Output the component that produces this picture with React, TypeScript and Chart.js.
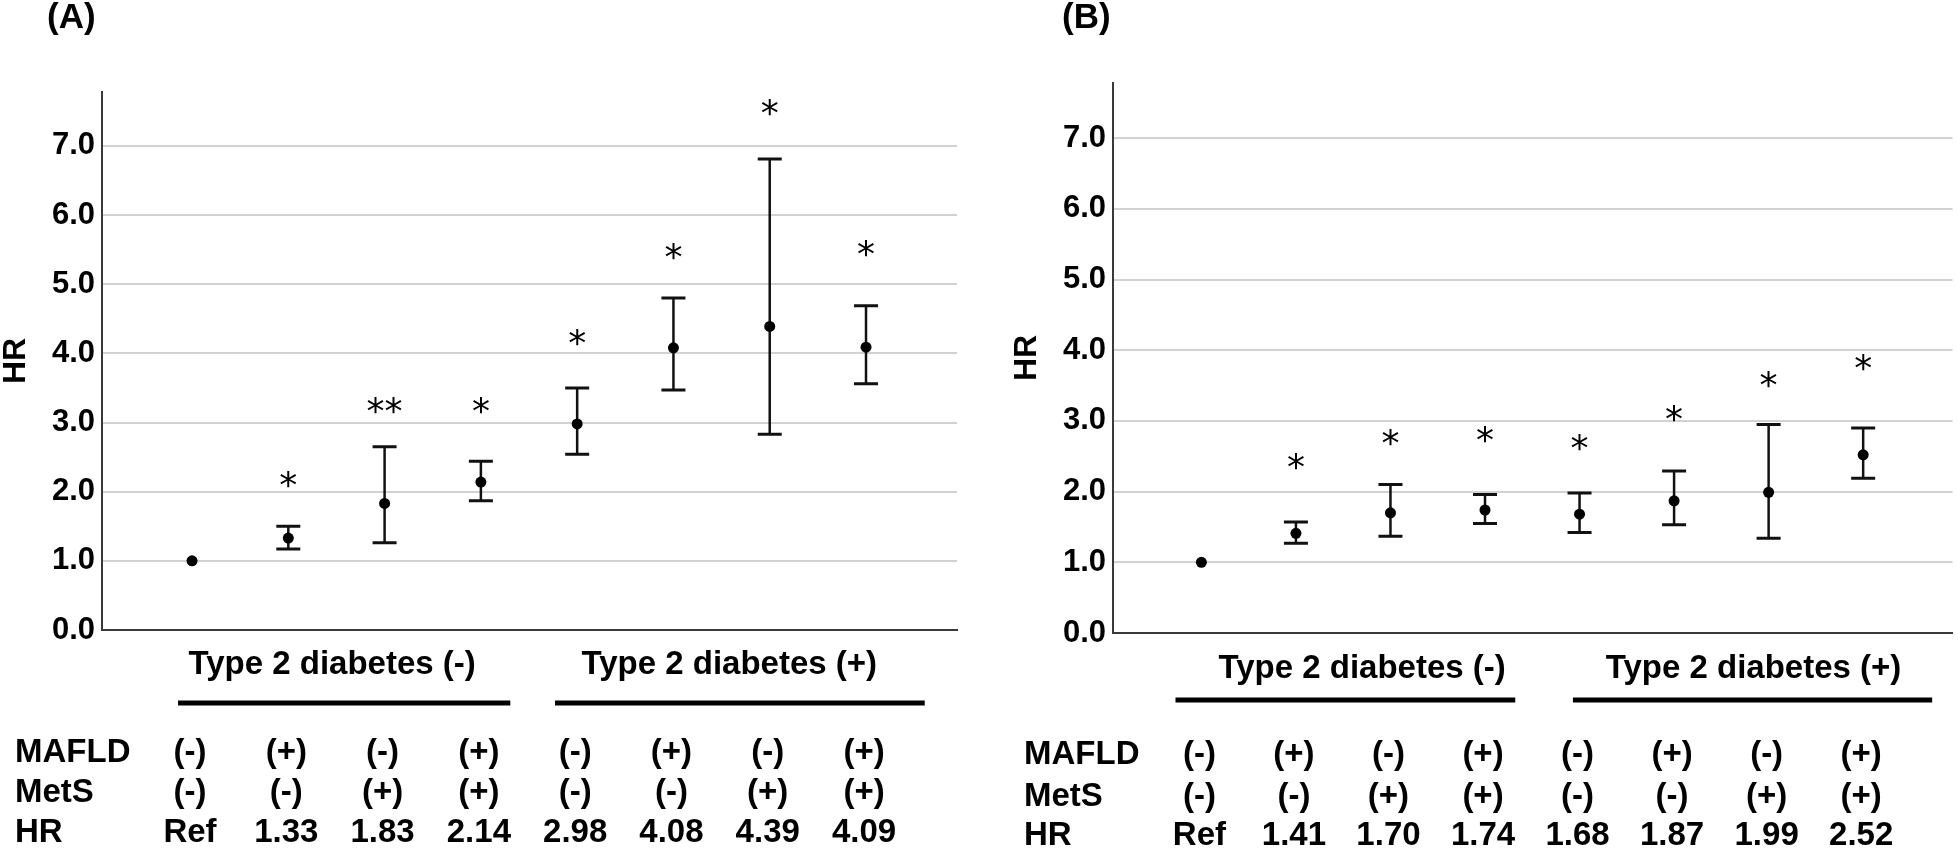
import React, { useEffect, useRef } from 'react';
import { Chart, registerables } from 'chart.js';

Chart.register(...registerables);

// ---------- data ----------
const groupIds = [1, 2, 3, 4, 5, 6, 7, 8];
const mafldRow = ['(-)', '(+)', '(-)', '(+)', '(-)', '(+)', '(-)', '(+)'];
const metsRow = ['(-)', '(-)', '(+)', '(+)', '(-)', '(-)', '(+)', '(+)'];
const rowNames = ['MAFLD', 'MetS', 'HR'];
const groupLabels = ['Type 2 diabetes (-)', 'Type 2 diabetes (+)'];
const yTickValues = [0, 1, 2, 3, 4, 5, 6, 7];

const hrA = [1.0, 1.33, 1.83, 2.14, 2.98, 4.08, 4.39, 4.09];
const lowA = [null, 1.17, 1.26, 1.87, 2.54, 3.47, 2.83, 3.56];
const highA = [null, 1.5, 2.65, 2.44, 3.5, 4.8, 6.81, 4.69];
const starsA = ['', '*', '**', '*', '*', '*', '*', '*'];
const starPosA = [null, 2.18, 3.25, 3.25, 4.23, 5.48, 7.56, 5.52];
const hrTextA = ['Ref', '1.33', '1.83', '2.14', '2.98', '4.08', '4.39', '4.09'];

const hrB = [1.0, 1.41, 1.7, 1.74, 1.68, 1.87, 1.99, 2.52];
const lowB = [null, 1.27, 1.37, 1.55, 1.42, 1.53, 1.34, 2.19];
const highB = [null, 1.57, 2.1, 1.96, 1.98, 2.29, 2.95, 2.9];
const starsB = ['', '*', '*', '*', '*', '*', '*', '*'];
const starPosB = [null, 2.43, 2.77, 2.81, 2.69, 3.11, 3.58, 3.82];
const hrTextB = ['Ref', '1.41', '1.70', '1.74', '1.68', '1.87', '1.99', '2.52'];

// ---------- layout ----------
const W = 979;
const H = 852;
const FONT = '"Liberation Sans", Arial, sans-serif';

type Panel = {
  label: string;
  hr: number[];
  low: (number | null)[];
  high: (number | null)[];
  stars: string[];
  starPos: (number | null)[];
  hrText: string[];
  padding: { left: number; right: number; top: number; bottom: number };
  groupCenters: number[];
  groupLines: number[][];
  groupTextDy: number;
  groupLineDy: number;
  rowDy: number[];
  rowLabelDx: number;
  panelLabelDx: number;
};

const panelA: Panel = {
  label: '(A)',
  hr: hrA,
  low: lowA,
  high: highA,
  stars: starsA,
  starPos: starPosA,
  hrText: hrTextA,
  padding: { left: 0, right: 22, top: 92, bottom: 222 },
  groupCenters: [2.455, 6.58],
  groupLines: [
    [0.855, 4.306],
    [4.77, 8.61],
  ],
  groupTextDy: 35,
  groupLineDy: 73,
  rowDy: [123, 163, 203],
  rowLabelDx: -87,
  panelLabelDx: -55,
};

const panelB: Panel = {
  label: '(B)',
  hr: hrB,
  low: lowB,
  high: highB,
  stars: starsB,
  starPos: starPosB,
  hrText: hrTextB,
  padding: { left: 32, right: 1, top: 83, bottom: 219 },
  groupCenters: [2.7, 6.84],
  groupLines: [
    [0.726, 4.32],
    [4.93, 8.73],
  ],
  groupTextDy: 36,
  groupLineDy: 67,
  rowDy: [122, 164, 203],
  rowLabelDx: -89,
  panelLabelDx: -51,
};

function makePlugin(p: Panel) {
  return {
    id: 'annot' + p.label,
    beforeDatasetsDraw(chart: any) {
      const ctx = chart.ctx;
      const xs = chart.scales.x;
      const ys = chart.scales.y;
      ctx.save();
      ctx.strokeStyle = '#111';
      p.low.forEach((lo, i) => {
        const hi = p.high[i];
        if (lo == null || hi == null) return;
        const x = xs.getPixelForValue(groupIds[i]);
        const yl = ys.getPixelForValue(lo);
        const yh = ys.getPixelForValue(hi);
        ctx.lineWidth = 2.5;
        ctx.beginPath();
        ctx.moveTo(x, yh);
        ctx.lineTo(x, yl);
        ctx.stroke();
        ctx.lineWidth = 3;
        ctx.beginPath();
        ctx.moveTo(x - 12, yh);
        ctx.lineTo(x + 12, yh);
        ctx.moveTo(x - 12, yl);
        ctx.lineTo(x + 12, yl);
        ctx.stroke();
      });
      ctx.restore();
    },
    afterDraw(chart: any) {
      const ctx = chart.ctx;
      const xs = chart.scales.x;
      const ys = chart.scales.y;
      const area = chart.chartArea;
      ctx.save();
      ctx.fillStyle = '#000';
      ctx.strokeStyle = '#000';

      // significance asterisks
      ctx.font = '36px "DejaVu Sans", sans-serif';
      ctx.textAlign = 'center';
      ctx.textBaseline = 'alphabetic';
      p.stars.forEach((s, i) => {
        const v = p.starPos[i];
        if (!s || v == null) return;
        const m = ctx.measureText(s);
        const cy = ys.getPixelForValue(v);
        const y = cy + (m.actualBoundingBoxAscent - m.actualBoundingBoxDescent) / 2;
        ctx.fillText(s, xs.getPixelForValue(groupIds[i]), y);
      });

      // panel label
      ctx.font = 'bold 35px ' + FONT;
      ctx.textAlign = 'left';
      ctx.textBaseline = 'middle';
      ctx.fillText(p.label, area.left + p.panelLabelDx, 18);

      // group labels + lines
      ctx.font = 'bold 33px ' + FONT;
      ctx.textAlign = 'center';
      groupLabels.forEach((g, k) => {
        ctx.fillText(g, xs.getPixelForValue(p.groupCenters[k]), area.bottom + p.groupTextDy);
        const [a, b] = p.groupLines[k];
        ctx.lineWidth = 5;
        ctx.beginPath();
        ctx.moveTo(xs.getPixelForValue(a), area.bottom + p.groupLineDy);
        ctx.lineTo(xs.getPixelForValue(b), area.bottom + p.groupLineDy);
        ctx.stroke();
      });

      // table
      const rows = [mafldRow, metsRow, p.hrText];
      rows.forEach((row, r) => {
        const y = area.bottom + p.rowDy[r];
        ctx.textAlign = 'left';
        ctx.fillText(rowNames[r], area.left + p.rowLabelDx, y);
        ctx.textAlign = 'center';
        row.forEach((t, i) => {
          ctx.fillText(t, xs.getPixelForValue(groupIds[i]) - 2, y);
        });
      });
      ctx.restore();
    },
  };
}

function PanelChart({ p }: { p: Panel }) {
  const ref = useRef<HTMLCanvasElement | null>(null);
  useEffect(() => {
    if (!ref.current) return;
    const chart = new Chart(ref.current, {
      type: 'scatter',
      data: {
        datasets: [
          {
            data: p.hr.map((v, i) => ({ x: groupIds[i], y: v })),
            backgroundColor: '#000',
            borderColor: '#000',
            borderWidth: 0,
            pointRadius: 5.5,
            pointHoverRadius: 5.5,
          },
        ],
      },
      options: {
        responsive: false,
        animation: false,
        events: [],
        layout: { padding: p.padding },
        plugins: { legend: { display: false }, tooltip: { enabled: false }, title: { display: false } },
        scales: {
          x: {
            type: 'linear',
            position: 'bottom',
            min: 0.065,
            max: 8.945,
            ticks: { display: false },
            grid: { display: false, drawTicks: false },
            border: { display: true, color: '#3a3a3a', width: 2 },
            afterFit: (s: any) => {
              s.height = 0;
            },
          },
          y: {
            type: 'linear',
            min: 0,
            max: 7.78,
            afterBuildTicks: (s: any) => {
              s.ticks = yTickValues.map((v) => ({ value: v }));
            },
            ticks: {
              includeBounds: false,
              padding: 7,
              color: '#000',
              font: { family: FONT, size: 31, weight: 'bold' },
              callback: (v: any) => Number(v).toFixed(1),
            },
            grid: { color: '#d2d2d2', lineWidth: 2, drawTicks: false },
            border: { display: true, color: '#3a3a3a', width: 2 },
            title: {
              display: true,
              text: 'HR',
              color: '#000',
              padding: 0,
              font: { family: FONT, size: 32, weight: 'bold', lineHeight: 1 },
            },
            afterFit: (s: any) => {
              s.width = 102;
            },
          },
        },
      },
      plugins: [makePlugin(p)],
    } as any);
    return () => chart.destroy();
  }, [p]);
  return <canvas ref={ref} width={W} height={H} style={{ display: 'block', width: W, height: H }} />;
}

export default function App() {
  return (
    <div
      style={{
        position: 'absolute',
        left: 0,
        top: 0,
        width: 1958,
        height: 852,
        background: '#fff',
        display: 'flex',
        overflow: 'hidden',
      }}
    >
      <PanelChart p={panelA} />
      <PanelChart p={panelB} />
    </div>
  );
}
